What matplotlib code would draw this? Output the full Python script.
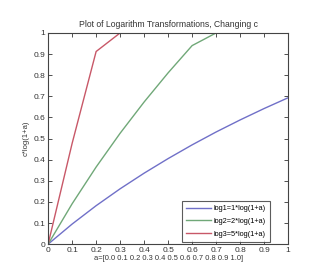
import matplotlib
matplotlib.use("Agg")
import matplotlib.pyplot as plt

# values (curves saturate at 1)
a = [0.0, 0.1, 0.2, 0.3, 0.4, 0.5, 0.6, 0.7, 0.8, 0.9, 1.0]
log1 = [0.0, 0.095, 0.182, 0.262, 0.336, 0.405, 0.470, 0.531, 0.588, 0.642, 0.693]
log2 = [0.0, 0.191, 0.365, 0.525, 0.673, 0.811, 0.940, 1.0, 1.0, 1.0, 1.0]
log3 = [0.0, 0.477, 0.912, 1.0, 1.0, 1.0, 1.0, 1.0, 1.0, 1.0, 1.0]
labels = ["log1=1*log(1+a)", "log2=2*log(1+a)", "log3=5*log(1+a)"]
ticks = [0, 0.1, 0.2, 0.3, 0.4, 0.5, 0.6, 0.7, 0.8, 0.9, 1]
tick_labels = ["0", "0.1", "0.2", "0.3", "0.4", "0.5", "0.6", "0.7", "0.8", "0.9", "1"]

plt.rcParams["font.family"] = ["Liberation Sans", "DejaVu Sans"]
fig = plt.figure(figsize=(3.23, 2.79), dpi=100)
ax = fig.add_axes([0.149, 0.125, 0.743, 0.757])

ax.plot(a, log1, color="#7070c8", linewidth=1.0, label=labels[0])
ax.plot(a, log2, color="#70a878", linewidth=1.0, label=labels[1])
ax.plot(a, log3, color="#c85868", linewidth=1.0, label=labels[2])

ax.set_xlim(0, 1)
ax.set_ylim(0, 1)
ax.set_xticks(ticks)
ax.set_xticklabels(tick_labels)
ax.set_yticks(ticks)
ax.set_yticklabels(tick_labels)
ax.tick_params(direction="in", length=3, width=0.6, labelsize=6, colors="#333333",
               top=True, right=True, pad=2)
for s in ax.spines.values():
    s.set_linewidth(0.8)
    s.set_color("#444444")

ax.set_title("Plot of Logarithm Transformations, Changing c", fontsize=6.2, color="#333333", pad=4)
ax.set_xlabel("a=[0.0 0.1 0.2 0.3 0.4 0.5 0.6 0.7 0.8 0.9 1.0]", fontsize=5.4, color="#333333", labelpad=1)
ax.set_ylabel("c*log(1+a)", fontsize=5.5, color="#333333", labelpad=3)

leg = ax.legend(loc="lower right", bbox_to_anchor=(0.925, 0.012), fontsize=5.3, frameon=True,
                fancybox=False, handlelength=3.4, handletextpad=0.4, borderaxespad=0,
                labelspacing=0.75, borderpad=0.55)
leg.get_frame().set_edgecolor("#333333")
leg.get_frame().set_linewidth(0.8)

fig.savefig("out.png", dpi=100)
